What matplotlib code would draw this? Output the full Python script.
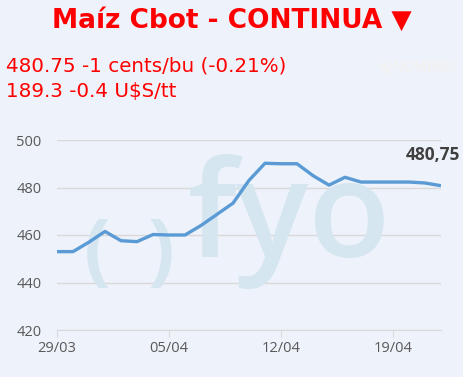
import numpy as np
import matplotlib.pyplot as plt

# daily closes 29/03 .. 22/04
dates = ['29/03', '30/03', '31/03', '01/04', '02/04', '03/04', '04/04',
         '05/04', '06/04', '07/04', '08/04', '09/04', '10/04', '11/04',
         '12/04', '13/04', '14/04', '15/04', '16/04', '17/04', '18/04',
         '19/04', '20/04', '21/04', '22/04']
prices = [453, 453, 457, 461.5, 457.6, 457.2, 460.2, 460, 460, 464, 468.7,
          473.4, 483, 490.2, 490, 490, 485, 481, 484.3, 482.3, 482.3, 482.3,
          482.3, 481.9, 480.75]
yticks = [420, 440, 460, 480, 500]

bg = '#EEF2FA'
W, H = 463, 377
fig = plt.figure(figsize=(W / 100, H / 100), dpi=100, facecolor=bg)
ax = fig.add_axes([57 / W, 1 - 330 / H, (441 - 57) / W, (330 - 140) / H])
ax.set_facecolor(bg)

x = np.arange(len(dates))

# watermark, behind the line
wm = '#D5E6F1'
ft = fig.transFigure
ax.text(97 / W, 1 - 255 / H, '(', transform=ft, fontsize=57, color=wm, ha='center', va='center',
        fontweight='bold', family='Open Sans', zorder=1, clip_on=False)
ax.text(161 / W, 1 - 255 / H, ')', transform=ft, fontsize=57, color=wm, ha='center', va='center',
        fontweight='bold', family='Open Sans', zorder=1, clip_on=False)
ax.text(289 / W, 1 - 257 / H, 'fyo', transform=ft, fontsize=97, color=wm, ha='center', va='baseline',
        fontweight=600, family='Open Sans', zorder=1, clip_on=False)

ax.plot(x, prices, color='#5B9BD5', lw=2.4, solid_capstyle='butt', zorder=3)

ax.set_xlim(0, len(dates) - 1)
ax.set_ylim(420, 500)
ax.set_yticks(yticks)
ax.set_xticks(x[::7])
ax.set_xticklabels(dates[::7])
ax.grid(axis='y', color='#D9D9D9', lw=1)
ax.set_axisbelow(True)
for s in ['top', 'right', 'left']:
    ax.spines[s].set_visible(False)
ax.spines['bottom'].set_color('#D9D9D9')
ax.tick_params(axis='y', length=0, pad=11, labelsize=10.5, labelcolor='#595959')
ax.tick_params(axis='x', length=5, color='#D9D9D9', pad=3, labelsize=10.5, labelcolor='#595959')
for lab in ax.get_xticklabels() + ax.get_yticklabels():
    lab.set_family('Open Sans')

ax.text(x[-1] + 1.2, prices[-1] + 13, '480,75', ha='right', va='center', fontsize=12.5,
        fontweight='bold', color='#404040', family='Open Sans', clip_on=False, zorder=4)

fig.text(0.5, 1 - 21 / H, 'Maíz Cbot - CONTINUA ▼', ha='center', va='center', fontsize=19,
         fontweight='bold', color='#FF0000', family='DejaVu Sans')
fig.text(6 / W, 1 - 66 / H, '480.75 -1 cents/bu (-0.21%)', ha='left', va='center', fontsize=14.3,
         color='#FF0000', family='DejaVu Sans')
fig.text(6 / W, 1 - 91 / H, '189.3 -0.4 U$S/tt', ha='left', va='center', fontsize=14.3,
         color='#FF0000', family='DejaVu Sans')
fig.text(459 / W, 1 - 67 / H, '#¿NOMBRE?', ha='right', va='center', fontsize=10,
         color='#F4F1EC', family='Open Sans')

fig.savefig('out.png', dpi=100, facecolor=bg)
